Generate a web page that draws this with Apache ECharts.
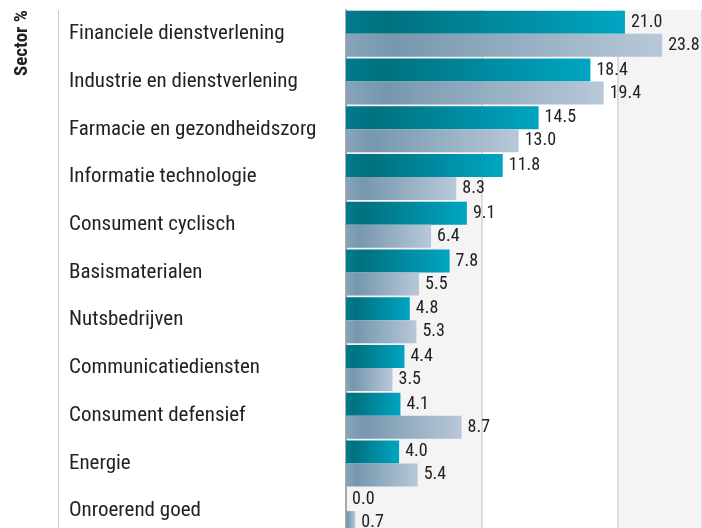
<!DOCTYPE html>
<html>
<head>
<meta charset="utf-8">
<script src="https://cdn.jsdelivr.net/npm/echarts@6/dist/echarts.min.js"></script>
<style>
html,body{margin:0;padding:0;overflow:hidden;background:#fff;}
#c{width:702px;height:560px;}
</style>
</head>
<body>
<div id="c"></div>
<script>
const categories = ["Financiele dienstverlening","Industrie en dienstverlening","Farmacie en gezondheidszorg","Informatie technologie","Consument cyclisch","Basismaterialen","Nutsbedrijven","Communicatiediensten","Consument defensief","Energie","Onroerend goed"];
const seriesA = [21.0, 18.4, 14.5, 11.8, 9.1, 7.8, 4.8, 4.4, 4.1, 4.0, 0.0];
const seriesB = [23.8, 19.4, 13.0, 8.3, 6.4, 5.5, 5.3, 3.5, 8.7, 5.4, 0.7];
const axisTitle = "Sector %";

const chart = echarts.init(document.getElementById('c'), null, {renderer:'canvas'});
const FONT = '"Roboto Condensed", Roboto';
function grad(stops){
  return new echarts.graphic.LinearGradient(0,0,1,0, stops.map(s=>({offset:s[0],color:s[1]})));
}
const labelCfg = {show:true, position:'right', distance:6, color:'#222', fontFamily:FONT, fontSize:18, formatter: p => p.value.toFixed(1)};
chart.setOption({
  animation:false,
  grid:{left:346, top:10, right:0, bottom:25, containLabel:false},
  xAxis:{type:'value', min:0, max:26.8, interval:10.23,
    axisLabel:{show:false}, axisTick:{show:false}, axisLine:{show:false},
    splitLine:{show:true, lineStyle:{color:'#dddddd', width:2}},
    splitArea:{show:true, areaStyle:{color:['#f4f4f4','#ffffff']}}},
  yAxis:{type:'category', data:categories, inverse:true,
    axisLine:{show:true, lineStyle:{color:'#aaaaaa', width:2}},
    axisTick:{show:false},
    axisLabel:{align:'left', margin:277, color:'#222', fontFamily:FONT, fontSize:21}},
  graphic:[
    {type:'line', shape:{x1:58.5,y1:10,x2:58.5,y2:560}, style:{stroke:'#cccccc', lineWidth:1}},
    {type:'text', x:32, y:76, rotation:Math.PI/2, style:{text:axisTitle, fontFamily:FONT, fontWeight:'bold', fontSize:19, fill:'#222', textAlign:'left', textVerticalAlign:'bottom'}}
  ],
  series:[
    {type:'bar', data:seriesA, barWidth:23, barGap:'0%',
     itemStyle:{color:grad([[0,'#007b8c'],[0.15,'#00717f'],[1,'#00a5c2']])}, label:labelCfg},
    {type:'bar', data:seriesB, barWidth:23, barGap:'0%',
     itemStyle:{color:grad([[0,'#88a5b9'],[0.15,'#7697ae'],[1,'#b8c8d8']])}, label:labelCfg}
  ]
});
</script>
</body>
</html>
